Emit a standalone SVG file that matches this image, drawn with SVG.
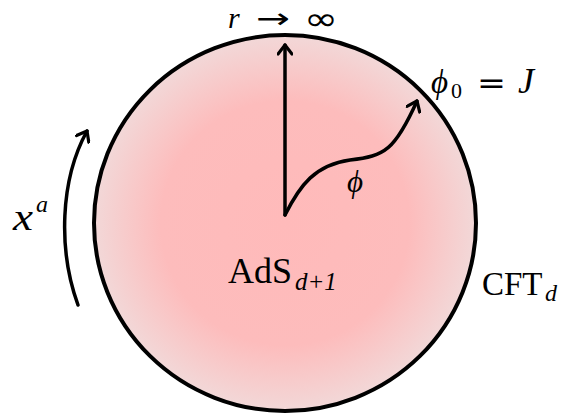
<svg xmlns="http://www.w3.org/2000/svg" width="562" height="416" viewBox="0 0 562 416">
<style>
.m{font-family:"Liberation Serif","DejaVu Serif",serif;font-style:italic;fill:#000}
.r{font-family:"Liberation Serif","DejaVu Serif",serif;font-style:normal;fill:#000}
.s{font-family:"DejaVu Sans",sans-serif;font-style:normal;fill:#000}
.ln{fill:none;stroke:#000;stroke-width:3.5;stroke-linecap:round;stroke-linejoin:round}
</style>
<defs>
<radialGradient id="g" cx="50%" cy="50%" r="50%">
<stop offset="0" stop-color="#ffbaba"/>
<stop offset="0.65" stop-color="#fdbcbc"/>
<stop offset="1" stop-color="#f2d8d8"/>
</radialGradient>
<marker id="ah" viewBox="0 0 16 16" refX="12" refY="8" markerWidth="16" markerHeight="16" markerUnits="userSpaceOnUse" orient="auto">
<path d="M3,1 L12,8 L3,15" fill="none" stroke="#000" stroke-width="3.2" stroke-linecap="round" stroke-linejoin="round"/>
</marker>
</defs>
<g id="bulk">
<ellipse cx="285" cy="223" rx="191" ry="188" fill="url(#g)" stroke="#000" stroke-width="4"/>
</g>
<g id="connectors">
<path class="ln" d="M285,215 L285,45" marker-end="url(#ah)"/>
<path class="ln" d="M285,215 C300,185 315,165 350,160 C385,156 395,150 417,101" marker-end="url(#ah)"/>
<path class="ln" d="M78,305 C58,250 60,180 87,131" marker-end="url(#ah)"/>
</g>
<g id="labels">
<text class="m" x="228" y="28" font-size="30">r</text>
<text class="s" x="256" y="28" font-size="28" textLength="34" lengthAdjust="spacingAndGlyphs">→</text>
<text class="s" x="304" y="30" font-size="32" textLength="34" lengthAdjust="spacingAndGlyphs">∞</text>
<text class="m" x="431" y="93" font-size="33">ϕ</text>
<text class="r" x="451" y="98" font-size="22">0</text>
<text class="s" x="477" y="93" font-size="30" textLength="29" lengthAdjust="spacingAndGlyphs">=</text>
<text class="m" x="518" y="93" font-size="36">J</text>
<text class="m" x="13" y="230" font-size="37" textLength="20" lengthAdjust="spacingAndGlyphs">x</text>
<text class="m" x="36" y="212" font-size="24">a</text>
<text class="m" x="347" y="192" font-size="31" fill="#333">ϕ</text>
<text class="r" x="228" y="283" font-size="36">AdS</text>
<text class="m" x="295" y="290" font-size="25">d+1</text>
<text class="r" x="482" y="295" font-size="33">CFT</text>
<text class="m" x="545" y="301" font-size="24">d</text>
</g>
</svg>
